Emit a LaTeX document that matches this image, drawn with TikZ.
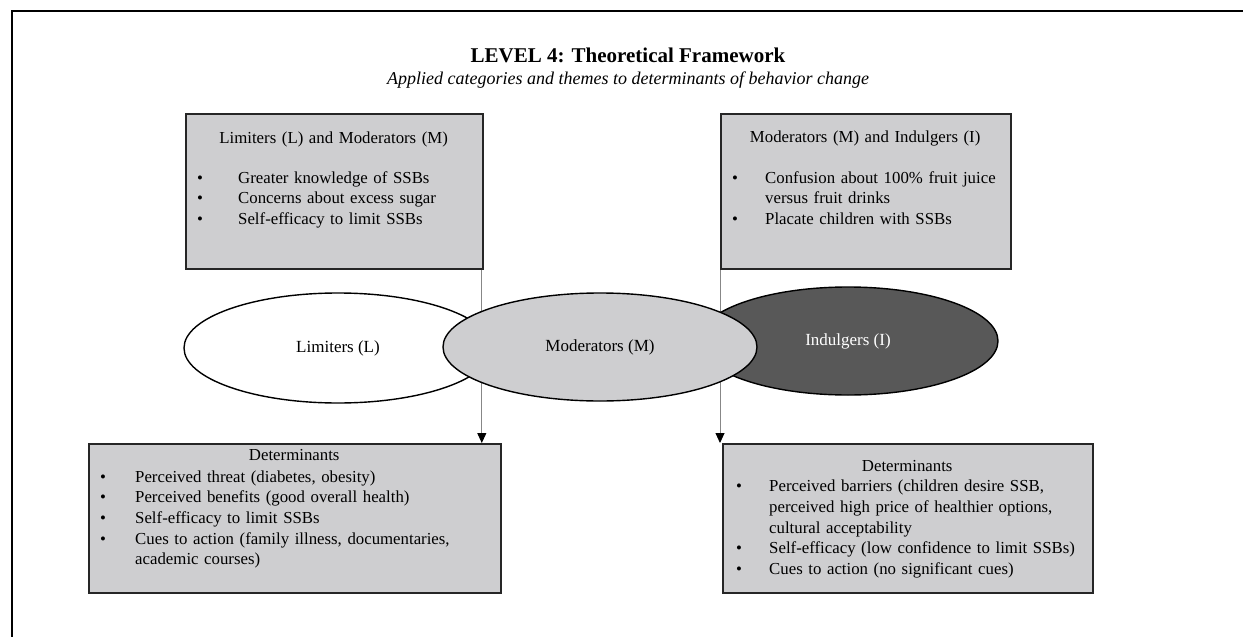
\documentclass[tikz,border=0pt]{standalone}
\usepackage{fontspec}
\setmainfont{Liberation Serif}
\usetikzlibrary{arrows.meta,positioning,shapes.geometric}

\definecolor{boxgrey}{RGB}{206,206,208}
\definecolor{indgrey}{RGB}{88,88,88}
\definecolor{linkgrey}{RGB}{135,135,135}

% bullet line with hanging indent
\newcommand{\bitem}[2]{\par\noindent\hangindent=#1\hangafter=1\makebox[#1][l]{\textbullet}#2}

\begin{document}
\begin{tikzpicture}[x=1pt,y=-1pt,
  framebox/.style={draw=black!85,line width=1.8pt,fill=boxgrey,inner sep=0pt,anchor=north west},
  boxtext/.style={inner sep=0pt,anchor=north west,align=left,text width=#1,
    font=\fontsize{16.8}{20.6}\selectfont},
  group/.style={ellipse,draw=black,line width=1.4pt,inner sep=0pt,
    font=\fontsize{17}{20}\selectfont},
  link/.style={draw=linkgrey,line width=0.9pt,-{Triangle[length=10pt,width=9pt,color=black]}}]

\useasboundingbox (0,0) rectangle (1243,637);

% outer frame
\draw[line width=1.8pt] (12,637) -- (12,11) -- (1243,11);

% heading
\node[font=\fontsize{21}{24}\selectfont\bfseries] (title) at (628,55) {LEVEL 4: Theoretical Framework};
\node[font=\fontsize{18}{20}\selectfont\itshape] (subtitle) at (628,80)
  {Applied categories and themes to determinants of behavior change};

% upper boxes
\node[framebox,minimum width=297,minimum height=155] (lmbox) at (185,113) {};
\node[boxtext=273pt] (lmtext) at ([shift={(12,15.6)}]lmbox.north west) {%
  {\centering\strut Limiters (L) and Moderators (M)\par}\vspace{19.4pt}
  \bitem{41pt}{Greater knowledge of SSBs}
  \bitem{41pt}{Concerns about excess sugar}
  \bitem{41pt}{Self-efficacy to limit SSBs}\par};

\node[framebox,minimum width=290,minimum height=155] (mibox) at (720,113) {};
\node[boxtext=266pt] (mitext) at ([shift={(12,14.6)}]mibox.north west) {%
  {\centering\strut Moderators (M) and Indulgers (I)\par}\vspace{20.4pt}
  \bitem{33pt}{\mbox{Confusion about 100\% fruit juice}\newline versus fruit drinks}
  \bitem{33pt}{Placate children with SSBs}\par};

% lower boxes
\node[framebox,minimum width=412,minimum height=149] (ldbox) at (88,443) {};
\node[boxtext=388pt] (ldtext) at ([shift={(12,2.6)}]ldbox.north west) {%
  {\centering\strut Determinants\par}\vspace{1.4pt}
  \bitem{35pt}{Perceived threat (diabetes, obesity)}
  \bitem{35pt}{Perceived benefits (good overall health)}
  \bitem{35pt}{Self-efficacy to limit SSBs}
  \bitem{35pt}{Cues to action (family illness, documentaries,\newline academic courses)}\par};

\node[framebox,minimum width=370,minimum height=149] (rdbox) at (722,443) {};
\node[boxtext=342pt] (rdtext) at ([shift={(14,13.6)}]rdbox.north west) {%
  {\centering\strut Determinants\par}
  \bitem{33pt}{Perceived barriers (children desire SSB,\newline perceived high price of healthier options,\newline cultural acceptability}
  \bitem{33pt}{Self-efficacy (low confidence to limit SSBs)}
  \bitem{33pt}{Cues to action (no significant cues)}\par};

% connectors, behind the ellipses
\coordinate (lmfoot) at ([xshift=-2pt]lmbox.south east);
\draw[link] (lmfoot) -- (lmfoot |- ldbox.north);
\draw[link] (mibox.south west) -- (mibox.south west |- rdbox.north);

% the three groups
\node[group,fill=white,minimum width=308,minimum height=110] (limiters) at (338,348) {Limiters (L)};
\node[group,fill=indgrey,text=white,minimum width=300,minimum height=108] (indulgers) at (848,341) {Indulgers (I)};
\node[group,fill=boxgrey,minimum width=314,minimum height=108] (moderators) at (600,347) {Moderators (M)};

\end{tikzpicture}
\end{document}
